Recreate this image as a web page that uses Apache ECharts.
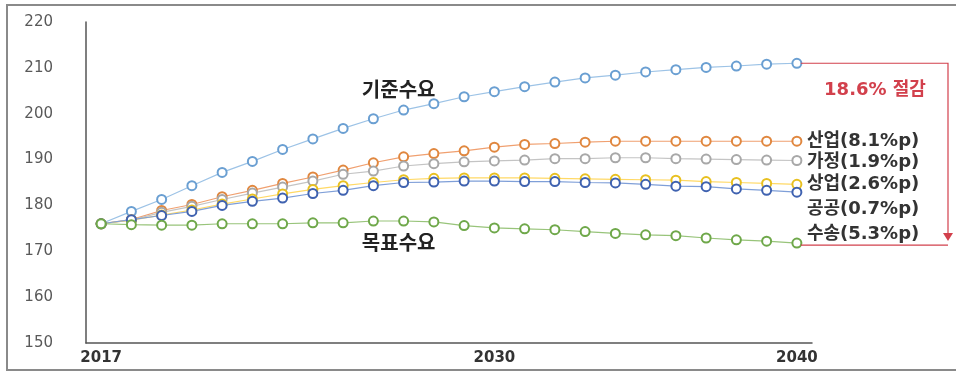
<!DOCTYPE html>
<html lang="ko">
<head>
<meta charset="UTF-8">
<title>부문별 수요 전망</title>
<script src="https://cdn.jsdelivr.net/npm/echarts@6.0.0/dist/echarts.min.js"></script>
<style>
  html, body { margin: 0; padding: 0; background: #fff; }
  #chart { width: 956px; height: 375px; }
</style>
</head>
<body>
<div id="chart"></div>
<script>
// years on the x axis
const years = [];
for (let y = 2017; y <= 2040; y++) years.push(String(y));

// values
const baseDemand = [176.0, 178.7, 181.3, 184.3, 187.2, 189.6, 192.2, 194.5, 196.8, 198.9, 200.8, 202.2,
  203.7, 204.8, 205.9, 206.9, 207.8, 208.4, 209.1, 209.6, 210.1, 210.4, 210.8, 211.0];
const industry = [176.0, 176.9, 178.9, 180.2, 181.9, 183.3, 184.8, 186.2, 187.7, 189.3, 190.6, 191.3,
  191.9, 192.7, 193.3, 193.5, 193.8, 194.0, 194.0, 194.0, 194.0, 194.0, 194.0, 194.0];
const household = [176.0, 176.8, 178.5, 179.8, 181.3, 182.7, 184.0, 185.3, 186.8, 187.5, 188.6, 189.1,
  189.5, 189.7, 189.9, 190.2, 190.2, 190.4, 190.4, 190.2, 190.1, 190.0, 189.9, 189.8];
const commercial = [176.0, 176.8, 177.9, 179.0, 180.3, 181.4, 182.5, 183.5, 184.3, 185.0, 185.6, 185.9,
  186.0, 186.0, 186.0, 185.9, 185.8, 185.7, 185.6, 185.5, 185.2, 185.0, 184.8, 184.6];
const publicSector = [176.0, 176.9, 177.8, 178.7, 180.0, 180.9, 181.6, 182.6, 183.3, 184.3, 185.0, 185.1,
  185.3, 185.3, 185.2, 185.2, 185.0, 184.9, 184.6, 184.2, 184.1, 183.6, 183.3, 182.9];
const transport = [176.0, 175.8, 175.7, 175.7, 176.0, 176.0, 176.0, 176.2, 176.2, 176.6, 176.6, 176.4,
  175.6, 175.1, 174.9, 174.7, 174.3, 173.9, 173.6, 173.4, 172.9, 172.5, 172.2, 171.8];

const yTicks = [150, 160, 170, 180, 190, 200, 210, 220];
const shownYears = ['2017', '2030', '2040'];

const labelFamily = '"DejaVu Sans", "Noto Sans CJK KR", sans-serif';

function mkSeries(name, data, lineColor, markColor, endText, offsetY) {
  return {
    name: name,
    type: 'line',
    data: data,
    symbol: 'circle',
    symbolSize: 9,
    showAllSymbol: true,
    itemStyle: { color: '#fff', borderColor: markColor, borderWidth: 2 },
    lineStyle: { color: lineColor, width: 1.2 },
    emphasis: { disabled: true },
    endLabel: endText ? {
      show: true,
      formatter: endText,
      color: '#333',
      fontFamily: labelFamily,
      fontWeight: 'bold',
      fontSize: 18,
      distance: 10,
      offset: [0, offsetY]
    } : { show: false },
    z: 3
  };
}

function textMark(coord, text) {
  return {
    symbol: 'rect',
    symbolSize: 1,
    silent: true,
    itemStyle: { color: 'rgba(0,0,0,0)' },
    data: [{ coord: coord }],
    label: {
      show: true, formatter: text, color: '#222', fontSize: 20, fontWeight: 'bold',
      fontFamily: '"Noto Sans CJK KR", sans-serif', position: 'inside', offset: [-5, 0]
    }
  };
}

const chart = echarts.init(document.getElementById('chart'));

const series = [
  mkSeries('기준수요', baseDemand, '#9dc3e6', '#6a9fd2', null, 0),
  mkSeries('산업', industry, '#f0a070', '#e0873f', '산업(8.1%p)', 0),
  mkSeries('가정', household, '#c4c4c4', '#a8a8a8', '가정(1.9%p)', 2),
  mkSeries('상업', commercial, '#ffd966', '#e8c020', '상업(2.6%p)', 0),
  mkSeries('공공', publicSector, '#7f9fd8', '#3f62b0', '공공(0.7%p)', 17),
  mkSeries('수송', transport, '#98c47a', '#6fa84a', '수송(5.3%p)', -9)
];

// 기준수요 / 목표수요 text next to the curves
series[0].markPoint = textMark(['2027', 205.3], '기준수요');
series[5].markPoint = textMark(['2027', 171.9], '목표수요');

chart.setOption({
  backgroundColor: '#fff',
  animation: false,
  grid: { left: 86, right: 144, top: 22, bottom: 32 },
  xAxis: {
    type: 'category',
    data: years,
    boundaryGap: true,
    axisLine: { lineStyle: { color: '#555', width: 1.5 } },
    axisTick: { show: false },
    axisLabel: {
      interval: 0,
      formatter: v => shownYears.includes(v) ? v : '',
      color: '#333',
      fontWeight: 'bold',
      fontSize: 15,
      fontFamily: '"DejaVu Sans", sans-serif',
      margin: 8
    },
    splitLine: { show: false }
  },
  yAxis: {
    type: 'value',
    min: yTicks[0],
    max: yTicks[yTicks.length - 1],
    interval: 10,
    axisLine: { show: true, lineStyle: { color: '#555', width: 1.5 } },
    axisTick: { show: false },
    axisLabel: {
      color: '#595959',
      fontSize: 15,
      fontFamily: '"DejaVu Sans", sans-serif',
      margin: 33
    },
    splitLine: { show: false }
  },
  series: series
});

// frame and the red reduction bracket, placed from the data
const lastIdx = years.length - 1;
const pTop = chart.convertToPixel({ gridIndex: 0 }, [years[lastIdx], baseDemand[lastIdx]]);
const pBot = chart.convertToPixel({ gridIndex: 0 }, [years[lastIdx], transport[lastIdx]]);
const bx = 948;
const red = '#d2404c';

chart.setOption({
  graphic: [
    {
      type: 'rect', silent: true, z: 0,
      shape: { x: 7, y: 5, width: 960, height: 365 },
      style: { fill: 'none', stroke: '#8a8a8a', lineWidth: 2 }
    },
    {
      type: 'polyline', silent: true, z: 10,
      shape: { points: [[pTop[0] + 4, pTop[1]], [bx, pTop[1]], [bx, pBot[1] - 6]] },
      style: { fill: 'none', stroke: red, lineWidth: 1.2 }
    },
    {
      type: 'polygon', silent: true, z: 10,
      shape: { points: [[bx - 5, pBot[1] - 10], [bx + 5, pBot[1] - 10], [bx, pBot[1] - 2]] },
      style: { fill: red }
    },
    {
      type: 'line', silent: true, z: 10,
      shape: { x1: pBot[0] + 4, y1: pBot[1] + 2, x2: bx, y2: pBot[1] + 2 },
      style: { stroke: red, lineWidth: 1.2 }
    },
    {
      type: 'text', silent: true, z: 10,
      x: 875, y: 90,
      style: {
        text: '18.6% 절감', fill: red, font: 'bold 18px ' + labelFamily,
        align: 'center', verticalAlign: 'middle'
      }
    }
  ]
});
</script>
</body>
</html>
